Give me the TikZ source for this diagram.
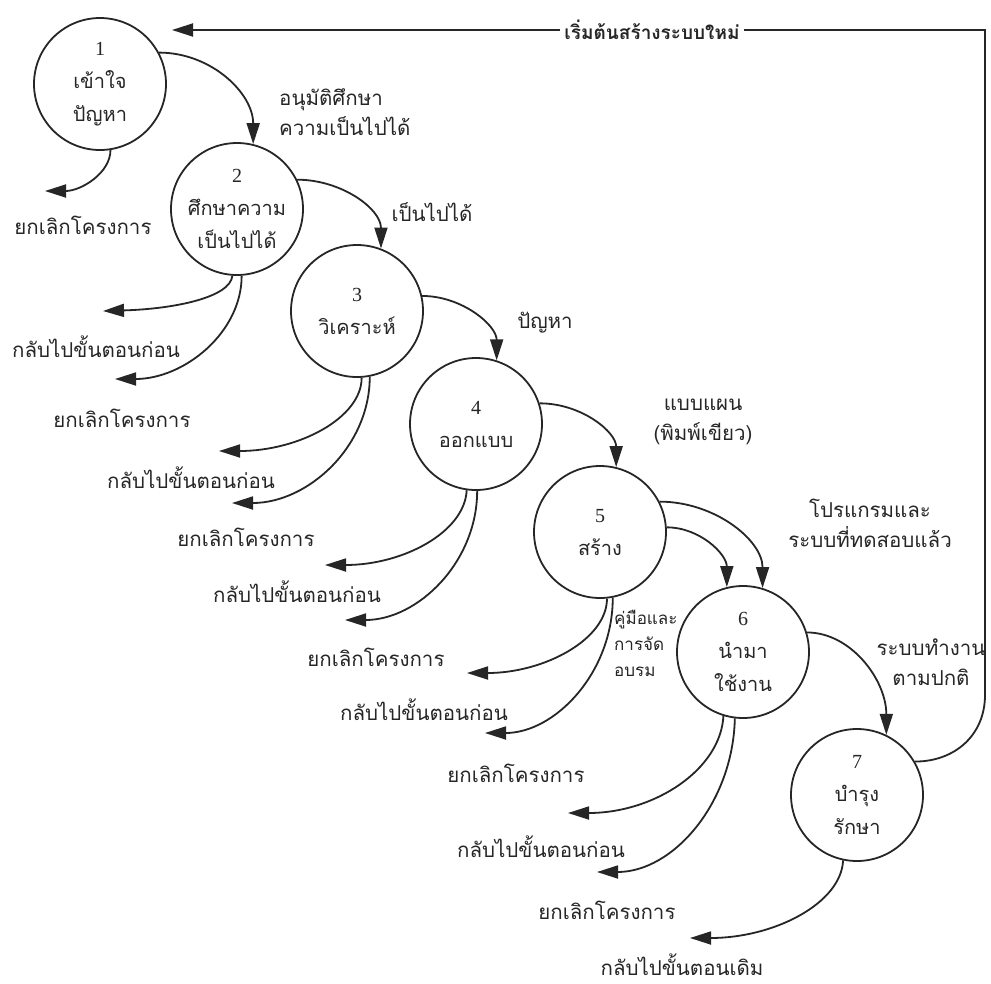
\documentclass[tikz,border=0pt]{standalone}
\usepackage{fontspec}
\usetikzlibrary{arrows.meta}
\newfontfamily\thaifont[Script=Thai]{Loma}
\newfontfamily\numfont{Liberation Serif}
\definecolor{ink}{RGB}{38,38,38}
\begin{document}
\begin{tikzpicture}[x=1pt,y=-1pt,
  proc/.style={circle, draw=ink, line width=1.8pt, minimum size=132pt, inner sep=0pt,
    align=center, text=ink, font=\thaifont\fontsize{20}{33}\selectfont},
  flow/.style={draw=ink, line width=1.8pt, -{Triangle[length=21pt,width=13pt]}},
  lbl/.style={text=ink, inner sep=0pt, align=center, font=\thaifont\fontsize{20.5}{30}\selectfont},
  small/.style={text=ink, inner sep=0pt, align=left, font=\thaifont\fontsize{17}{26}\selectfont},
  top/.style={text=ink, fill=white, inner xsep=4pt, inner ysep=2pt, font=\thaifont\bfseries\fontsize{19}{24}\selectfont}]
\useasboundingbox[fill=white] (0,0) rectangle (991,983);

% processes
\node[proc] (c1) at (100,84)  {{\numfont 1}\\เข้าใจ\\ปัญหา};
\node[proc] (c2) at (237,209) {{\numfont 2}\\ศึกษาความ\\เป็นไปได้};
\node[proc] (c3) at (357,311) {{\numfont 3}\\วิเคราะห์};
\node[proc] (c4) at (476,424) {{\numfont 4}\\ออกแบบ};
\node[proc] (c5) at (600,532) {{\numfont 5}\\สร้าง};
\node[proc] (c6) at (743,652) {{\numfont 6}\\นำมา\\ใช้งาน};
\node[proc] (c7) at (857,795) {{\numfont 7}\\บำรุง\\รักษา};

% forward flows
\draw[flow] (c1.28) .. controls +(52,0) and +(0,-51) .. (c2.76);
\draw[flow] (c2.26) .. controls +(44,0) and +(0,-40) .. (c3.69);
\draw[flow] (c3.13) .. controls +(40,0) and +(0,-35) .. (c4.72);
\draw[flow] (c4.18) .. controls +(42,0) and +(0,-35) .. (c5.76);
\draw[flow] (c5.27) .. controls +(55,0) and +(0,-48) .. (c6.73);
\draw[flow] (c5.4)  .. controls +(33,0) and +(0,-33) .. (c6.104);
\draw[flow] (c6.17) .. controls +(44,0) and +(0,-55) .. (c7.64);

% return loop
\coordinate (rA) at (985,695);
\coordinate (rB) at (985,30);
\coordinate (rC) at (172,30);
\draw[flow] (c7.30) .. controls +(40,0) and +(0,40) .. (rA) -- (rB) -- (rC);
\node[top] (new) at (652,30) {เริ่มต้นสร้างระบบใหม่};

% forward labels
\node[lbl, align=left, anchor=west] (l12) at (279,112) {อนุมัติศึกษา\\ความเป็นไปได้};
\node[lbl] (l23) at (432,212) {เป็นไปได้};
\node[lbl] (l34) at (545,323) {ปัญหา};
\node[lbl] (l45) at (703,422) {แบบแผน\\(พิมพ์เขียว)};
\node[lbl] (l56) at (870,523) {โปรแกรมและ\\ระบบที่ทดสอบแล้ว};
\node[lbl] (l67) at (931,662) {ระบบทำงาน\\ตามปกติ};
\node[small, anchor=west] (l56b) at (614,643) {คู่มือและ\\การจัด\\อบรม};

% exit targets
\coordinate (e1)  at (45,191);
\coordinate (e2a) at (103,311);
\coordinate (e2b) at (115,379);
\coordinate (e3a) at (219,451);
\coordinate (e3b) at (232,503);
\coordinate (e4a) at (325,565);
\coordinate (e4b) at (345,620);
\coordinate (e5a) at (467,673);
\coordinate (e5b) at (485,733);
\coordinate (e6a) at (568,813);
\coordinate (e6b) at (597,872);
\coordinate (e7)  at (690,938);

\draw[flow] (c1.-81) .. controls +(0,23) and +(36,0) .. (e1);
\draw[flow] (c2.-94) .. controls +(-2,22) and +(70,-2) .. (e2a);
\draw[flow] (c2.-86) .. controls +(0,57) and +(69,0) .. (e2b);
\draw[flow] (c3.-86) .. controls +(0,40) and +(80,0) .. (e3a);
\draw[flow] (c3.-79) .. controls +(0,70) and +(76,0) .. (e3b);
\draw[flow] (c4.-98) .. controls +(-2,42) and +(78,0) .. (e4a);
\draw[flow] (c4.-89) .. controls +(0,71) and +(73,0) .. (e4b);
\draw[flow] (c5.-84) .. controls +(0,41) and +(77,0) .. (e5a);
\draw[flow] (c5.-79) .. controls +(0,75) and +(70,0) .. (e5b);
\draw[flow] (c6.-107) .. controls +(-3,54) and +(86,0) .. (e6a);
\draw[flow] (c6.-97) .. controls +(-2,85) and +(76,0) .. (e6b);
\draw[flow] (c7.-102) .. controls +(-2,43) and +(84,0) .. (e7);

% exit labels
\node[lbl] (x1)  at (83,225)  {ยกเลิกโครงการ};
\node[lbl] (x2a) at (96,347)  {กลับไปขั้นตอนก่อน};
\node[lbl] (x2b) at (122,418) {ยกเลิกโครงการ};
\node[lbl] (x3a) at (191,478) {กลับไปขั้นตอนก่อน};
\node[lbl] (x3b) at (246,537) {ยกเลิกโครงการ};
\node[lbl] (x4a) at (297,592) {กลับไปขั้นตอนก่อน};
\node[lbl] (x4b) at (376,657) {ยกเลิกโครงการ};
\node[lbl] (x5a) at (424,710) {กลับไปขั้นตอนก่อน};
\node[lbl] (x5b) at (516,773) {ยกเลิกโครงการ};
\node[lbl] (x6a) at (541,847) {กลับไปขั้นตอนก่อน};
\node[lbl] (x6b) at (607,910) {ยกเลิกโครงการ};
\node[lbl] (x7)  at (682,965) {กลับไปขั้นตอนเดิม};
\end{tikzpicture}
\end{document}
